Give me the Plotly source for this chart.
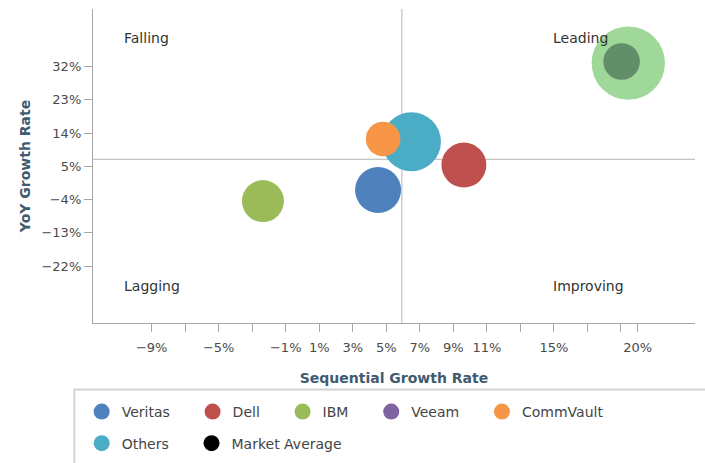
import plotly.graph_objects as go

# ---------------- data ----------------
companies = ["Veritas", "Dell", "IBM", "Others", "CommVault"]
seq_growth = [4.51, 9.63, -2.36, 6.50, 4.81]        # Sequential Growth Rate (%)
yoy_growth = [-1.41, 5.36, -4.39, 11.68, 12.41]     # YoY Growth Rate (%)
market_share = [10.6, 10.1, 8.8, 17.4, 6.0]         # bubble size (share)
company_colors = ["#4f81bd", "#c0504d", "#9bbb59", "#4bacc6", "#f79646"]

legend_row1 = ["Veritas", "Dell", "IBM", "Veeam", "CommVault"]
legend_row1_colors = ["#4f81bd", "#c0504d", "#9bbb59", "#8064a2", "#f79646"]
legend_row2 = ["Others", "Market Average"]
legend_row2_colors = ["#4bacc6", "#000000"]

leader_seq = [19.44]
leader_yoy = [32.92]
leader_share = [26.9]

market_avg_seq = [19.04]
market_avg_yoy = [33.35]
market_avg_share = [6.7]

avg_seq_line = 5.93
avg_yoy_line = 6.91

x_tick_vals = [-9, -7, -5, -3, -1, 1, 3, 5, 7, 9, 11, 13, 15, 17, 19, 20]
x_tick_text = ["−9%", "", "−5%", "", "−1%", "1%", "3%", "5%", "7%", "9%", "11%", "", "15%", "", "", "20%"]
y_tick_vals = [32, 23, 14, 5, -4, -13, -22]
y_tick_text = ["32%", "23%", "14%", "5%", "−4%", "−13%", "−22%"]

quadrants = ["Falling", "Leading", "Lagging", "Improving"]

# ---------------- figure ----------------
FONT = "DejaVu Sans"
SIZEREF = 0.01
NB = "\u00a0\u00a0\u00a0\u00a0"

fig = go.Figure()

def bubble(name, x, y, s, color):
    fig.add_trace(go.Scatter(
        x=x, y=y, mode="markers", name=name,
        marker=dict(size=s, sizemode="area", sizeref=SIZEREF, color=color,
                    line=dict(width=0), opacity=1),
        showlegend=False, hoverinfo="name",
    ))

# data bubbles (draw order: CommVault on top of Others)
for nm in ["Veritas", "Dell", "IBM", "Others", "CommVault"]:
    i = companies.index(nm)
    bubble(nm, [seq_growth[i]], [yoy_growth[i]], [market_share[i]], company_colors[i])

# leading highlight bubble and market average
bubble("Leader", leader_seq, leader_yoy, leader_share, "rgb(159,216,153)")
bubble("Market Average", market_avg_seq, market_avg_yoy, market_avg_share, "rgb(98,143,106)")

# legend entries (two rows)
for names, cols, lg in [(legend_row1, legend_row1_colors, "legend"),
                        (legend_row2, legend_row2_colors, "legend2")]:
    for k, (nm, c) in enumerate(zip(names, cols)):
        pad = NB if k < len(names) - 1 else ""
        fig.add_trace(go.Scatter(x=[None], y=[None], mode="markers", name=nm + pad,
                                 marker=dict(size=16, color=c), legend=lg, hoverinfo="skip"))

# quadrant divider lines
fig.add_shape(type="line", xref="x", yref="paper", x0=avg_seq_line, x1=avg_seq_line, y0=0, y1=1,
              line=dict(color="#b4b4b4", width=1), layer="below")
fig.add_shape(type="line", xref="paper", yref="y", x0=0, x1=1, y0=avg_yoy_line, y1=avg_yoy_line,
              line=dict(color="#b4b4b4", width=1), layer="below")

# legend box
fig.add_shape(type="rect", xref="paper", yref="paper", x0=-0.031, x1=1.03, y0=-0.60, y1=-0.2116,
              line=dict(color="#d3d3d3", width=2), fillcolor="rgba(0,0,0,0)")

# quadrant labels
qpos = [(0.048, 0.908), (0.761, 0.908), (0.048, 0.117), (0.761, 0.117)]
for txt, (qx, qy) in zip(quadrants, qpos):
    fig.add_annotation(text=txt, xref="paper", yref="paper", x=qx, y=qy, xanchor="left",
                       yanchor="middle", showarrow=False, font=dict(family=FONT, size=14, color="#333333"))

axis_common = dict(showgrid=False, zeroline=False, showline=True, linecolor="#a6a6a6", linewidth=1.3,
                   ticks="outside", ticklen=8, tickcolor="#a6a6a6", tickwidth=1,
                   tickfont=dict(family=FONT, size=13, color="#4a4a4a"))

fig.update_layout(
    width=705, height=463,
    margin=dict(l=93.3, r=10, t=9.3, b=140.3, autoexpand=False),
    paper_bgcolor="white", plot_bgcolor="white",
    font=dict(family=FONT),
    xaxis=dict(range=[-12.50, 23.42], tickvals=x_tick_vals, ticktext=x_tick_text,
               ticklabelstandoff=4,
               title=dict(text="<b>Sequential Growth Rate</b>", standoff=19,
                          font=dict(family=FONT, size=14, color="#3e5b70")),
               **axis_common),
    yaxis=dict(range=[-37.36, 47.55], tickvals=y_tick_vals, ticktext=y_tick_text,
               title=dict(text="<b>YoY Growth Rate</b>", standoff=7,
                          font=dict(family=FONT, size=14, color="#3e5b70")),
               **axis_common),
    legend=dict(orientation="h", x=-0.0188, xanchor="left", y=-0.2833, yanchor="middle",
                font=dict(family=FONT, size=14, color="#444444"), bgcolor="rgba(0,0,0,0)",
                itemsizing="trace", borderwidth=0),
    legend2=dict(orientation="h", x=-0.0188, xanchor="left", y=-0.3839, yanchor="middle",
                 font=dict(family=FONT, size=14, color="#444444"), bgcolor="rgba(0,0,0,0)",
                 itemsizing="trace", borderwidth=0),
)

fig.write_html("out.html", config={"displayModeBar": False},
               post_script="document.body.style.margin='0';")
